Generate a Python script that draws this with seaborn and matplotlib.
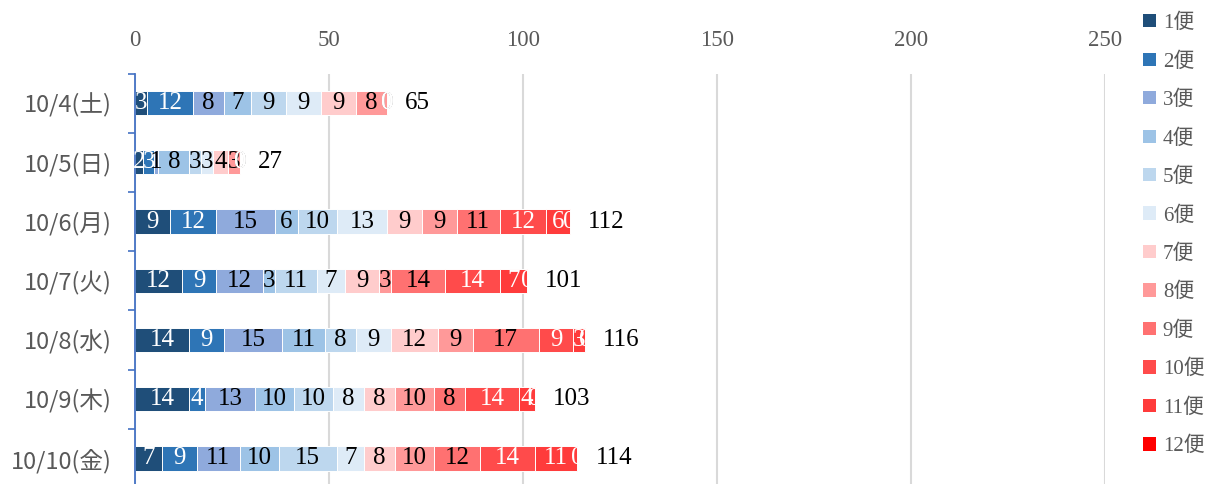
import numpy as np
import pandas as pd
import matplotlib
matplotlib.use('Agg')
import matplotlib.pyplot as plt
from matplotlib.patches import Patch
import seaborn as sns

# Dates (rows) and the 12 services (stacked segments).
dates = ['10/4(土)', '10/5(日)', '10/6(月)', '10/7(火)', '10/8(水)', '10/9(木)', '10/10(金)']
services = ['1便', '2便', '3便', '4便', '5便', '6便', '7便', '8便', '9便', '10便', '11便', '12便']

s1 = [3, 2, 9, 12, 14, 14, 7]
s2 = [12, 3, 12, 9, 9, 4, 9]
s3 = [8, 1, 15, 12, 15, 13, 11]
s4 = [7, 8, 6, 3, 11, 10, 10]
s5 = [9, 3, 10, 11, 8, 10, 15]
s6 = [9, 3, 13, 7, 9, 8, 7]
s7 = [9, 4, 9, 9, 12, 8, 8]
s8 = [8, 3, 9, 3, 9, 10, 10]
s9 = [0, 0, 11, 14, 17, 8, 12]
s10 = [0, 0, 12, 14, 9, 14, 14]
s11 = [0, 0, 6, 7, 3, 4, 11]
s12 = [0, 0, 0, 0, 0, 0, 0]

series = [s1, s2, s3, s4, s5, s6, s7, s8, s9, s10, s11, s12]

colors = ['#1F4E79', '#2E75B6', '#8FAADC', '#9DC3E6', '#BDD7EE', '#DEEBF7',
          '#FFCCCC', '#FF9999', '#FF7171', '#FF4B4B', '#FF3B3B', '#FF0000']
label_colors = ['white', 'white', 'black', 'black', 'black', 'black',
                'black', 'black', 'black', 'white', 'white', 'white']

sns.set_style('white')
serif = ['Liberation Serif', 'Noto Sans CJK JP']
gothic = ['Noto Sans CJK JP', 'DejaVu Sans']
plt.rcParams['font.family'] = serif

vals = np.array(series)          # shape (12, 7)
cum = np.cumsum(vals, axis=0)    # right edge of each segment
totals = cum[-1]

fig = plt.figure(figsize=(12.11, 4.84), dpi=100)
ax = fig.add_axes([135 / 1211, -4 / 484, 970 / 1211, 414.5 / 484])

# Stacked bars: draw cumulative sums from the longest down so each covers the previous.
for i in range(len(services) - 1, -1, -1):
    df = pd.DataFrame({'date': dates, 'value': cum[i]})
    sns.barplot(data=df, x='value', y='date', orient='h', color=colors[i],
                saturation=1, width=0.41, edgecolor='white', linewidth=0.7,
                ax=ax, zorder=2)

# Segment labels, in series order so the later ones sit on top.
for i in range(len(services)):
    for j in range(len(dates)):
        ax.text(cum[i][j] - vals[i][j] / 2, j, str(vals[i][j]), ha='center', va='center',
                fontsize=18, color=label_colors[i], zorder=3)

# Totals after each bar.
for j in range(len(dates)):
    ax.annotate(str(totals[j]), (totals[j], j), xytext=(13, 0), textcoords='offset points',
                ha='left', va='center', fontsize=18, color='black')

ax.set_xlim(0, 250)
ax.set_ylim(6.5, -0.5)
ax.set_xticks(range(0, 251, 50))
ax.xaxis.tick_top()
ax.tick_params(axis='x', length=0, pad=16, labelsize=16.5, labelcolor='#595959')
ax.grid(axis='x', color='#D9D9D9', linewidth=1.5, zorder=0)
ax.set_axisbelow(True)

ax.set_yticks(range(len(dates)))
ax.set_yticklabels(dates, fontfamily=gothic)
ax.set_yticks(np.arange(-0.5, len(dates), 1.0), minor=True)
ax.tick_params(axis='y', which='major', left=False, length=0, pad=17, labelsize=17,
               labelcolor='#595959')
ax.tick_params(axis='y', which='minor', left=True, direction='out', length=5, width=1.2,
               color='#4472C4')
ax.set_xlabel('')
ax.set_ylabel('')

for side in ['top', 'right', 'bottom']:
    ax.spines[side].set_visible(False)
ax.spines['left'].set_color('#4472C4')
ax.spines['left'].set_linewidth(1.3)

handles = [Patch(facecolor=c, edgecolor='none') for c in colors]
fig.legend(handles, services, loc='upper left', bbox_to_anchor=(1143 / 1211, 0.972),
           frameon=False, fontsize=15, handlelength=0.6, handleheight=0.6,
           handletextpad=0.35, labelspacing=0.91, borderpad=0, borderaxespad=0,
           labelcolor='#595959', prop={'family': serif, 'size': 15})

fig.savefig('out.png', dpi=100)
